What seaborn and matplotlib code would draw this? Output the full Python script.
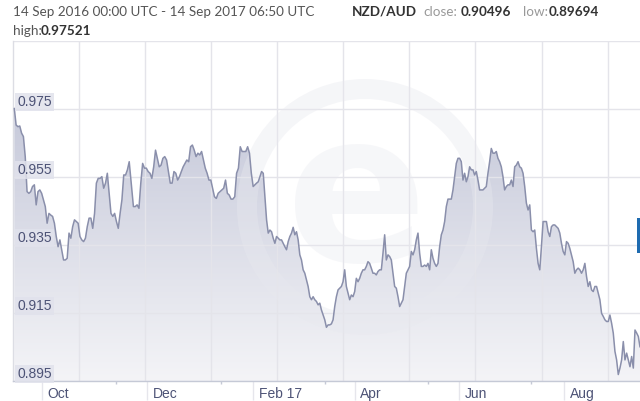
import numpy as np
import pandas as pd
import matplotlib
matplotlib.use("Agg")
import matplotlib.pyplot as plt
import matplotlib.dates as mdates
from matplotlib.colors import LinearSegmentedColormap
from matplotlib.patches import Wedge, Rectangle
from matplotlib.transforms import ScaledTranslation, blended_transform_factory
import seaborn as sns

# -----------------------------
# Data (NZD/AUD, one stretch per segment)
# -----------------------------
SEG_SPANS = [
    ("2016-09-14 18:00", "2016-11-20 17:00"),
    ("2016-11-22 02:00", "2017-01-31 22:00"),
    ("2017-02-02 22:00", "2017-04-15 14:00"),
    ("2017-04-16 14:00", "2017-06-27 10:00"),
    ("2017-06-28 10:00", "2017-09-14 06:50"),
]

SEG1 = [0.9752, 0.9703, 0.9698, 0.9700, 0.9679, 0.9669, 0.9610, 0.9507, 0.9502, 0.9507,
        0.9522, 0.9527, 0.9468, 0.9507, 0.9512, 0.9502, 0.9483, 0.9463, 0.9414, 0.9443,
        0.9438, 0.9434, 0.9414, 0.9375, 0.9345, 0.9365, 0.9336, 0.9306, 0.9306, 0.9311,
        0.9385, 0.9370, 0.9404, 0.9424, 0.9419, 0.9414, 0.9375, 0.9365, 0.9360, 0.9370,
        0.9404, 0.9429, 0.9429, 0.9399, 0.9443, 0.9532, 0.9546, 0.9546, 0.9551, 0.9517,
        0.9532, 0.9561, 0.9502, 0.9443, 0.9434, 0.9443, 0.9419, 0.9399, 0.9443, 0.9483,
        0.9556, 0.9556, 0.9571, 0.9595]
SEG2 = [0.9522, 0.9463, 0.9463, 0.9468, 0.9458, 0.9532, 0.9590, 0.9576, 0.9576, 0.9566,
        0.9561, 0.9546, 0.9580, 0.9629, 0.9605, 0.9580, 0.9585, 0.9605, 0.9610, 0.9600,
        0.9566, 0.9532, 0.9532, 0.9566, 0.9561, 0.9541, 0.9551, 0.9566, 0.9580, 0.9590,
        0.9600, 0.9595, 0.9639, 0.9644, 0.9629, 0.9610, 0.9620, 0.9615, 0.9625, 0.9600,
        0.9576, 0.9561, 0.9541, 0.9541, 0.9517, 0.9492, 0.9487, 0.9502, 0.9507, 0.9512,
        0.9517, 0.9541, 0.9502, 0.9497, 0.9485, 0.9485, 0.9492, 0.9561, 0.9576, 0.9639,
        0.9625, 0.9625, 0.9625, 0.9639, 0.9620, 0.9561, 0.9522]
SEG3 = [0.9532, 0.9536, 0.9551, 0.9566, 0.9561, 0.9492, 0.9424, 0.9385, 0.9394, 0.9389,
        0.9370, 0.9355, 0.9375, 0.9370, 0.9365, 0.9365, 0.9355, 0.9345, 0.9336, 0.9360,
        0.9375, 0.9385, 0.9402, 0.9380, 0.9389, 0.9365, 0.9321, 0.9306, 0.9277, 0.9267,
        0.9247, 0.9228, 0.9198, 0.9189, 0.9198, 0.9189, 0.9184, 0.9174, 0.9179, 0.9159,
        0.9144, 0.9130, 0.9108, 0.9115, 0.9115, 0.9118, 0.9130, 0.9169, 0.9198, 0.9218,
        0.9223, 0.9228, 0.9242, 0.9277, 0.9228, 0.9208, 0.9189, 0.9203, 0.9198, 0.9213,
        0.9252, 0.9242, 0.9252, 0.9267, 0.9277, 0.9277, 0.9287, 0.9301, 0.9296, 0.9282,
        0.9267, 0.9267, 0.9262, 0.9272, 0.9277]
SEG4 = [0.9277, 0.9326, 0.9380, 0.9306, 0.9321, 0.9316, 0.9306, 0.9267, 0.9228, 0.9223,
        0.9198, 0.9169, 0.9179, 0.9189, 0.9228, 0.9267, 0.9277, 0.9287, 0.9331, 0.9321,
        0.9336, 0.9365, 0.9385, 0.9326, 0.9287, 0.9287, 0.9291, 0.9287, 0.9296, 0.9277,
        0.9336, 0.9311, 0.9296, 0.9287, 0.9296, 0.9345, 0.9380, 0.9394, 0.9419, 0.9463,
        0.9485, 0.9485, 0.9485, 0.9512, 0.9551, 0.9590, 0.9605, 0.9605, 0.9595, 0.9541,
        0.9561, 0.9536, 0.9551, 0.9580, 0.9571, 0.9571, 0.9556, 0.9566, 0.9541, 0.9512,
        0.9512, 0.9512, 0.9517, 0.9522, 0.9561, 0.9595, 0.9634, 0.9620, 0.9620, 0.9625,
        0.9605, 0.9595, 0.9580, 0.9551, 0.9512]
SEG5 = [0.9522, 0.9527, 0.9527, 0.9541, 0.9522, 0.9580, 0.9585, 0.9595, 0.9580, 0.9576,
        0.9561, 0.9522, 0.9473, 0.9453, 0.9468, 0.9394, 0.9389, 0.9394, 0.9340, 0.9296,
        0.9277, 0.9345, 0.9419, 0.9419, 0.9419, 0.9389, 0.9375, 0.9404, 0.9409, 0.9409,
        0.9404, 0.9399, 0.9385, 0.9355, 0.9331, 0.9321, 0.9360, 0.9355, 0.9340, 0.9321,
        0.9301, 0.9267, 0.9277, 0.9282, 0.9277, 0.9267, 0.9277, 0.9296, 0.9257, 0.9228,
        0.9242, 0.9218, 0.9213, 0.9228, 0.9228, 0.9208, 0.9189, 0.9149, 0.9140, 0.9130,
        0.9125, 0.9125, 0.9144, 0.9120, 0.9091, 0.9037, 0.9012, 0.8969, 0.8988, 0.9012,
        0.9066, 0.9012, 0.9032, 0.9012, 0.8992, 0.9022, 0.8988, 0.9100, 0.9091, 0.9081,
        0.9050]
SEGMENTS = [SEG1, SEG2, SEG3, SEG4, SEG5]

Y_TICKS = [0.895, 0.915, 0.935, 0.955, 0.975, 0.995]
Y_LABELS = ["0.895", "0.915", "0.935", "0.955", "0.975"]
X_TICKS = ["2016-10-01", "2016-12-01", "2017-02-01", "2017-04-01", "2017-06-01", "2017-08-01"]
X_LABELS = ["Oct", "Dec", "Feb 17", "Apr", "Jun", "Aug"]
X_MINOR = ["2016-11-13", "2017-01-13", "2017-03-15", "2017-05-14", "2017-07-13"]
START, END = "2016-09-14 00:00", "2017-09-14 06:50"

# -----------------------------
# Style
# -----------------------------
sns.set_theme(style="white")
plt.rcParams["font.family"] = ["Liberation Sans", "DejaVu Sans"]

LINE = "#8a8fab"
GRID = "#e4e4ea"
LABEL = "#4d5376"
WATERMARK = "#e8e9ef"

frames = []
for (a, b), vals in zip(SEG_SPANS, SEGMENTS):
    frames.append(pd.DataFrame({"date": pd.date_range(a, b, periods=len(vals)), "rate": vals}))
df = pd.concat(frames, ignore_index=True)

fig = plt.figure(figsize=(6.4, 4.01), dpi=100)
ax = fig.add_axes([13 / 640, 20 / 401, 627 / 640, 340 / 401])

sns.lineplot(data=df, x="date", y="rate", ax=ax, color=LINE, lw=1.1, zorder=3)

# gradient area under the line
poly = ax.fill_between(df["date"], df["rate"], Y_TICKS[0], color="none", lw=0)
x0, x1 = mdates.date2num(pd.to_datetime([START, END]))
cmap = LinearSegmentedColormap.from_list("fade", ["#f4f4f7", "#c6c9da"])
grad = np.linspace(1, 0, 256).reshape(-1, 1)
im = ax.imshow(grad, extent=[x0, x1, Y_TICKS[0], df["rate"].max()], aspect="auto",
               cmap=cmap, origin="upper", zorder=1)
im.set_clip_path(poly.get_paths()[0], transform=ax.transData)

ax.set_xlim(pd.Timestamp(START), pd.Timestamp(END))
ax.set_ylim(Y_TICKS[0], Y_TICKS[-1])

# grid
ax.set_yticks(Y_TICKS)
ax.set_axisbelow("line")
ax.yaxis.grid(True, color=GRID, lw=1)
step = (pd.Timestamp(END) - pd.Timestamp(START)) / 9.49
for k in range(1, 10):
    ax.axvline(pd.Timestamp(START) + k * step, color=GRID, lw=1, zorder=1.5)
ax.tick_params(axis="y", left=False, labelleft=False)
ax.set_xlabel("")
ax.set_ylabel("")

# faint "xe" watermark: ring plus letter
ring = Wedge((3.65, 1.94), 1.28, 0, 360, width=0.2, transform=fig.dpi_scale_trans,
             fc=WATERMARK, ec="none", alpha=0.4, zorder=2, clip_on=False)
ax.add_artist(ring)
ax.text(3.57, 1.98, "e", transform=fig.dpi_scale_trans, fontsize=150, weight="bold",
        family="DejaVu Sans", color=WATERMARK, alpha=0.35, ha="center", va="center", zorder=2)

# y labels sitting inside the plot, just above their grid line
tr = blended_transform_factory(ax.transAxes, ax.transData)
for val, lab in zip(Y_TICKS, Y_LABELS):
    ax.text(0.0065, val, lab, transform=tr, ha="left", va="bottom", fontsize=10,
            color=LABEL, zorder=5,
            bbox=dict(boxstyle="square,pad=0.15", fc="#e1e2ec", ec="none", alpha=0.85))

# x axis
ax.set_xticks(pd.to_datetime(X_TICKS))
ax.set_xticklabels(X_LABELS, ha="left")
ax.set_xticks(pd.to_datetime(X_MINOR), minor=True)
ax.tick_params(axis="x", which="major", direction="out", length=14, width=1,
               color="#e6e6ec", pad=-10, labelsize=10, labelcolor=LABEL, bottom=True)
ax.tick_params(axis="x", which="minor", direction="out", length=2.5, width=1,
               color="#c5c9d6", bottom=True)
shift = ScaledTranslation(4 / 72, 0, fig.dpi_scale_trans)
for t in ax.get_xticklabels():
    t.set_transform(t.get_transform() + shift)

for s in ["top", "right"]:
    ax.spines[s].set_visible(False)
ax.spines["left"].set_color("#dcdde4")
ax.spines["bottom"].set_color("#c5c9d6")
ax.spines["left"].set_linewidth(1)
ax.spines["bottom"].set_linewidth(1)

# small blue handle on right edge
fig.add_artist(Rectangle((637 / 640, 1 - 253 / 401), 3 / 640, 35 / 401,
                         transform=fig.transFigure, fc="#1e6bb0", ec="none"))

# header
hdr = ["Lato", "DejaVu Sans"]
fig.text(13 / 640, 1 - 12 / 401, "14 Sep 2016 00:00 UTC - 14 Sep 2017 06:50 UTC",
         family=hdr, fontsize=9.7, color="#555555", va="center")
fig.text(352 / 640, 1 - 12 / 401, "NZD/AUD", family=hdr, fontsize=9.7,
         weight="bold", color="#333333", va="center")
fig.text(423 / 640, 1 - 12 / 401, "close:", family=hdr, fontsize=9.7, color="#999999", va="center")
fig.text(461 / 640, 1 - 12 / 401, "0.90496", family=hdr, fontsize=9.7,
         weight="bold", color="#333333", va="center")
fig.text(523 / 640, 1 - 12 / 401, "low:", family=hdr, fontsize=9.7, color="#999999", va="center")
fig.text(549 / 640, 1 - 12 / 401, "0.89694", family=hdr, fontsize=9.7,
         weight="bold", color="#333333", va="center")
fig.text(13 / 640, 1 - 31 / 401, "high:", family=hdr, fontsize=9.7, color="#555555", va="center")
fig.text(41 / 640, 1 - 31 / 401, "0.97521", family=hdr, fontsize=9.7,
         weight="bold", color="#333333", va="center")

fig.savefig("out.png", dpi=100)
